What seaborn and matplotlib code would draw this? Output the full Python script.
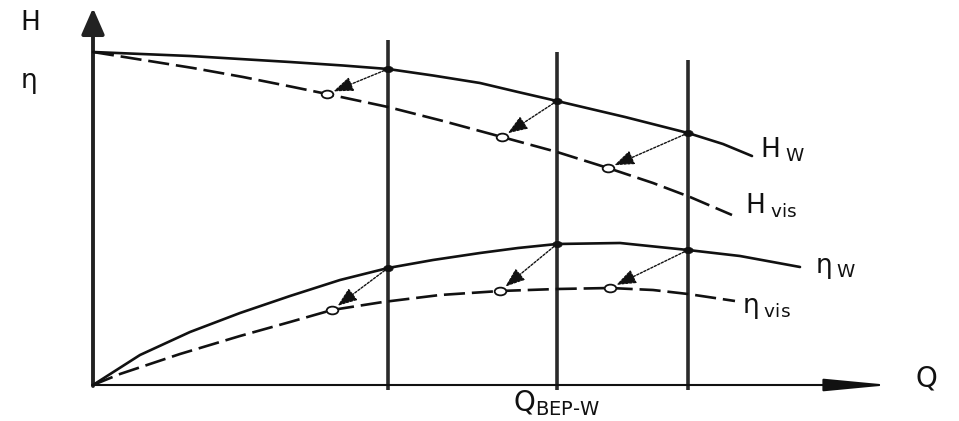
import matplotlib
matplotlib.use("Agg")
import matplotlib.pyplot as plt
from matplotlib.path import Path
import seaborn as sns

# Pump characteristics in relative units: flow Q, head H, efficiency eta
q_hw = [0.00, 0.97, 1.97, 2.50, 2.95, 3.40, 3.87, 4.25, 4.64, 5.32, 5.95, 6.30, 6.59]
h_w = [3.33, 3.29, 3.23, 3.195, 3.16, 3.095, 3.02, 2.93, 2.84, 2.68, 2.52, 2.41, 2.29]

q_hvis = [0.00, 0.50, 1.00, 1.50, 2.00, 2.34, 2.95, 3.50, 4.09, 4.64, 5.15, 5.60, 5.97, 6.39]
h_vis = [3.33, 3.25, 3.17, 3.08, 2.98, 2.91, 2.78, 2.64, 2.48, 2.33, 2.17, 2.02, 1.88, 1.70]

q_ew = [0.00, 0.47, 0.97, 1.47, 1.97, 2.47, 2.95, 3.40, 3.87, 4.25, 4.64, 5.27, 5.95, 6.47, 7.07]
eta_w = [0.00, 0.30, 0.53, 0.72, 0.89, 1.05, 1.17, 1.25, 1.32, 1.37, 1.41, 1.42, 1.35, 1.29, 1.18]

q_evis = [0.00, 0.27, 0.87, 1.47, 1.97, 2.39, 2.90, 3.47, 4.07, 4.64, 5.17, 5.60, 5.95, 6.42]
eta_vis = [0.00, 0.11, 0.31, 0.49, 0.63, 0.75, 0.83, 0.90, 0.94, 0.96, 0.97, 0.95, 0.91, 0.84]

# Operating points on the water curves and their converted viscous points
q_op_w = [2.95, 4.64, 5.95]
h_op_w = [3.16, 2.84, 2.52]
eta_op_w = [1.17, 1.41, 1.35]
q_op_hvis = [2.34, 4.09, 5.15]
h_op_vis = [2.91, 2.48, 2.17]
q_op_evis = [2.39, 4.07, 5.17]
eta_op_vis = [0.75, 0.94, 0.97]

# Upper ends of the vertical flow lines
line_top = [3.45, 3.33, 3.25]

label_h = "H"
label_eta = "η"
label_q = "Q"

sns.set_theme(style="white")
plt.rcParams["font.family"] = ["DejaVu Sans"]
plt.rcParams["mathtext.fontset"] = "dejavusans"
plt.rcParams["mathtext.default"] = "regular"

fig = plt.figure(figsize=(9.59, 4.21), dpi=100)
ax = fig.add_axes([0, 0, 1, 1])
ax.set_xlim(-0.93, 8.66)
ax.set_ylim(-0.36, 3.85)
ax.axis("off")

ink = "#111111"

# Vertical flow lines through the operating points
for q, top in zip(q_op_w, line_top):
    ax.plot([q, q], [-0.05, top], color="#2a2a2a", lw=2.6, solid_capstyle="butt", zorder=1)

# Coordinate axes with arrow heads
ax.annotate("", xy=(0, 3.77), xytext=(0, -0.01),
            arrowprops=dict(arrowstyle="-|>,head_length=16,head_width=7",
                            mutation_scale=1, lw=2.8, color="#222222",
                            shrinkA=0, shrinkB=0), zorder=2)
ax.annotate("", xy=(7.97, 0), xytext=(-0.01, 0),
            arrowprops=dict(arrowstyle="-|>,head_length=40,head_width=3.8",
                            mutation_scale=1, lw=1.5, color=ink,
                            shrinkA=0, shrinkB=0), zorder=2)

# Characteristic curves
dash = (0, (8, 2.6))
sns.lineplot(x=q_hw, y=h_w, ax=ax, color=ink, lw=1.9, zorder=3)
sns.lineplot(x=q_hvis, y=h_vis, ax=ax, color=ink, lw=1.9, linestyle=dash, zorder=3)
sns.lineplot(x=q_ew, y=eta_w, ax=ax, color=ink, lw=1.9, zorder=3)
sns.lineplot(x=q_evis, y=eta_vis, ax=ax, color=ink, lw=1.9, linestyle=dash, zorder=3)

# Conversion arrows from water point to viscous point
arrow_kw = dict(arrowstyle="-|>,head_length=0.75,head_width=0.28",
                mutation_scale=16, lw=1.0, linestyle=(0, (1.6, 1.2)),
                color=ink, shrinkA=3, shrinkB=5)
for qa, ya, qb, yb in zip(q_op_w, h_op_w, q_op_hvis, h_op_vis):
    ax.annotate("", xy=(qb, yb), xytext=(qa, ya), arrowprops=arrow_kw, zorder=5)
for qa, ya, qb, yb in zip(q_op_w, eta_op_w, q_op_evis, eta_op_vis):
    ax.annotate("", xy=(qb, yb), xytext=(qa, ya), arrowprops=arrow_kw, zorder=5)

# Point markers: slightly flattened dots and rings
circ = Path.unit_circle()
ellipse = Path(circ.vertices * [1.5, 1.0], circ.codes)
sns.scatterplot(x=q_op_w + q_op_w, y=h_op_w + eta_op_w, ax=ax, marker=ellipse,
                s=45, color=ink, edgecolor=ink, linewidth=0.5, zorder=6)
sns.scatterplot(x=q_op_hvis + q_op_evis, y=h_op_vis + eta_op_vis, ax=ax, marker=ellipse,
                s=70, facecolor="white", edgecolor=ink, linewidth=1.3, zorder=6)

# Axis titles
ax.text(-0.63, 3.55, label_h, fontsize=19, ha="center", va="baseline", color=ink)
ax.text(-0.64, 2.97, label_eta, fontsize=19, ha="center", va="baseline", color=ink)
ax.text(8.22, -0.02, label_q, fontsize=20, ha="left", va="baseline", color=ink)

# Curve labels
ax.text(6.67, 2.28, r"H$_{\;\mathrm{W}}$", fontsize=19, ha="left", va="baseline", color=ink)
ax.text(6.52, 1.72, r"H$_{\;\mathrm{vis}}$", fontsize=19, ha="left", va="baseline", color=ink)
ax.text(7.22, 1.12, r"η$_{\;\mathrm{W}}$", fontsize=19, ha="left", va="baseline", color=ink)
ax.text(6.49, 0.72, r"η$_{\;\mathrm{vis}}$", fontsize=19, ha="left", va="baseline", color=ink)
ax.text(4.20, -0.26, r"Q$_{\mathrm{BEP\text{-}W}}$", fontsize=20, ha="left", va="baseline", color=ink)

fig.savefig("out.png", dpi=100, facecolor="white")
